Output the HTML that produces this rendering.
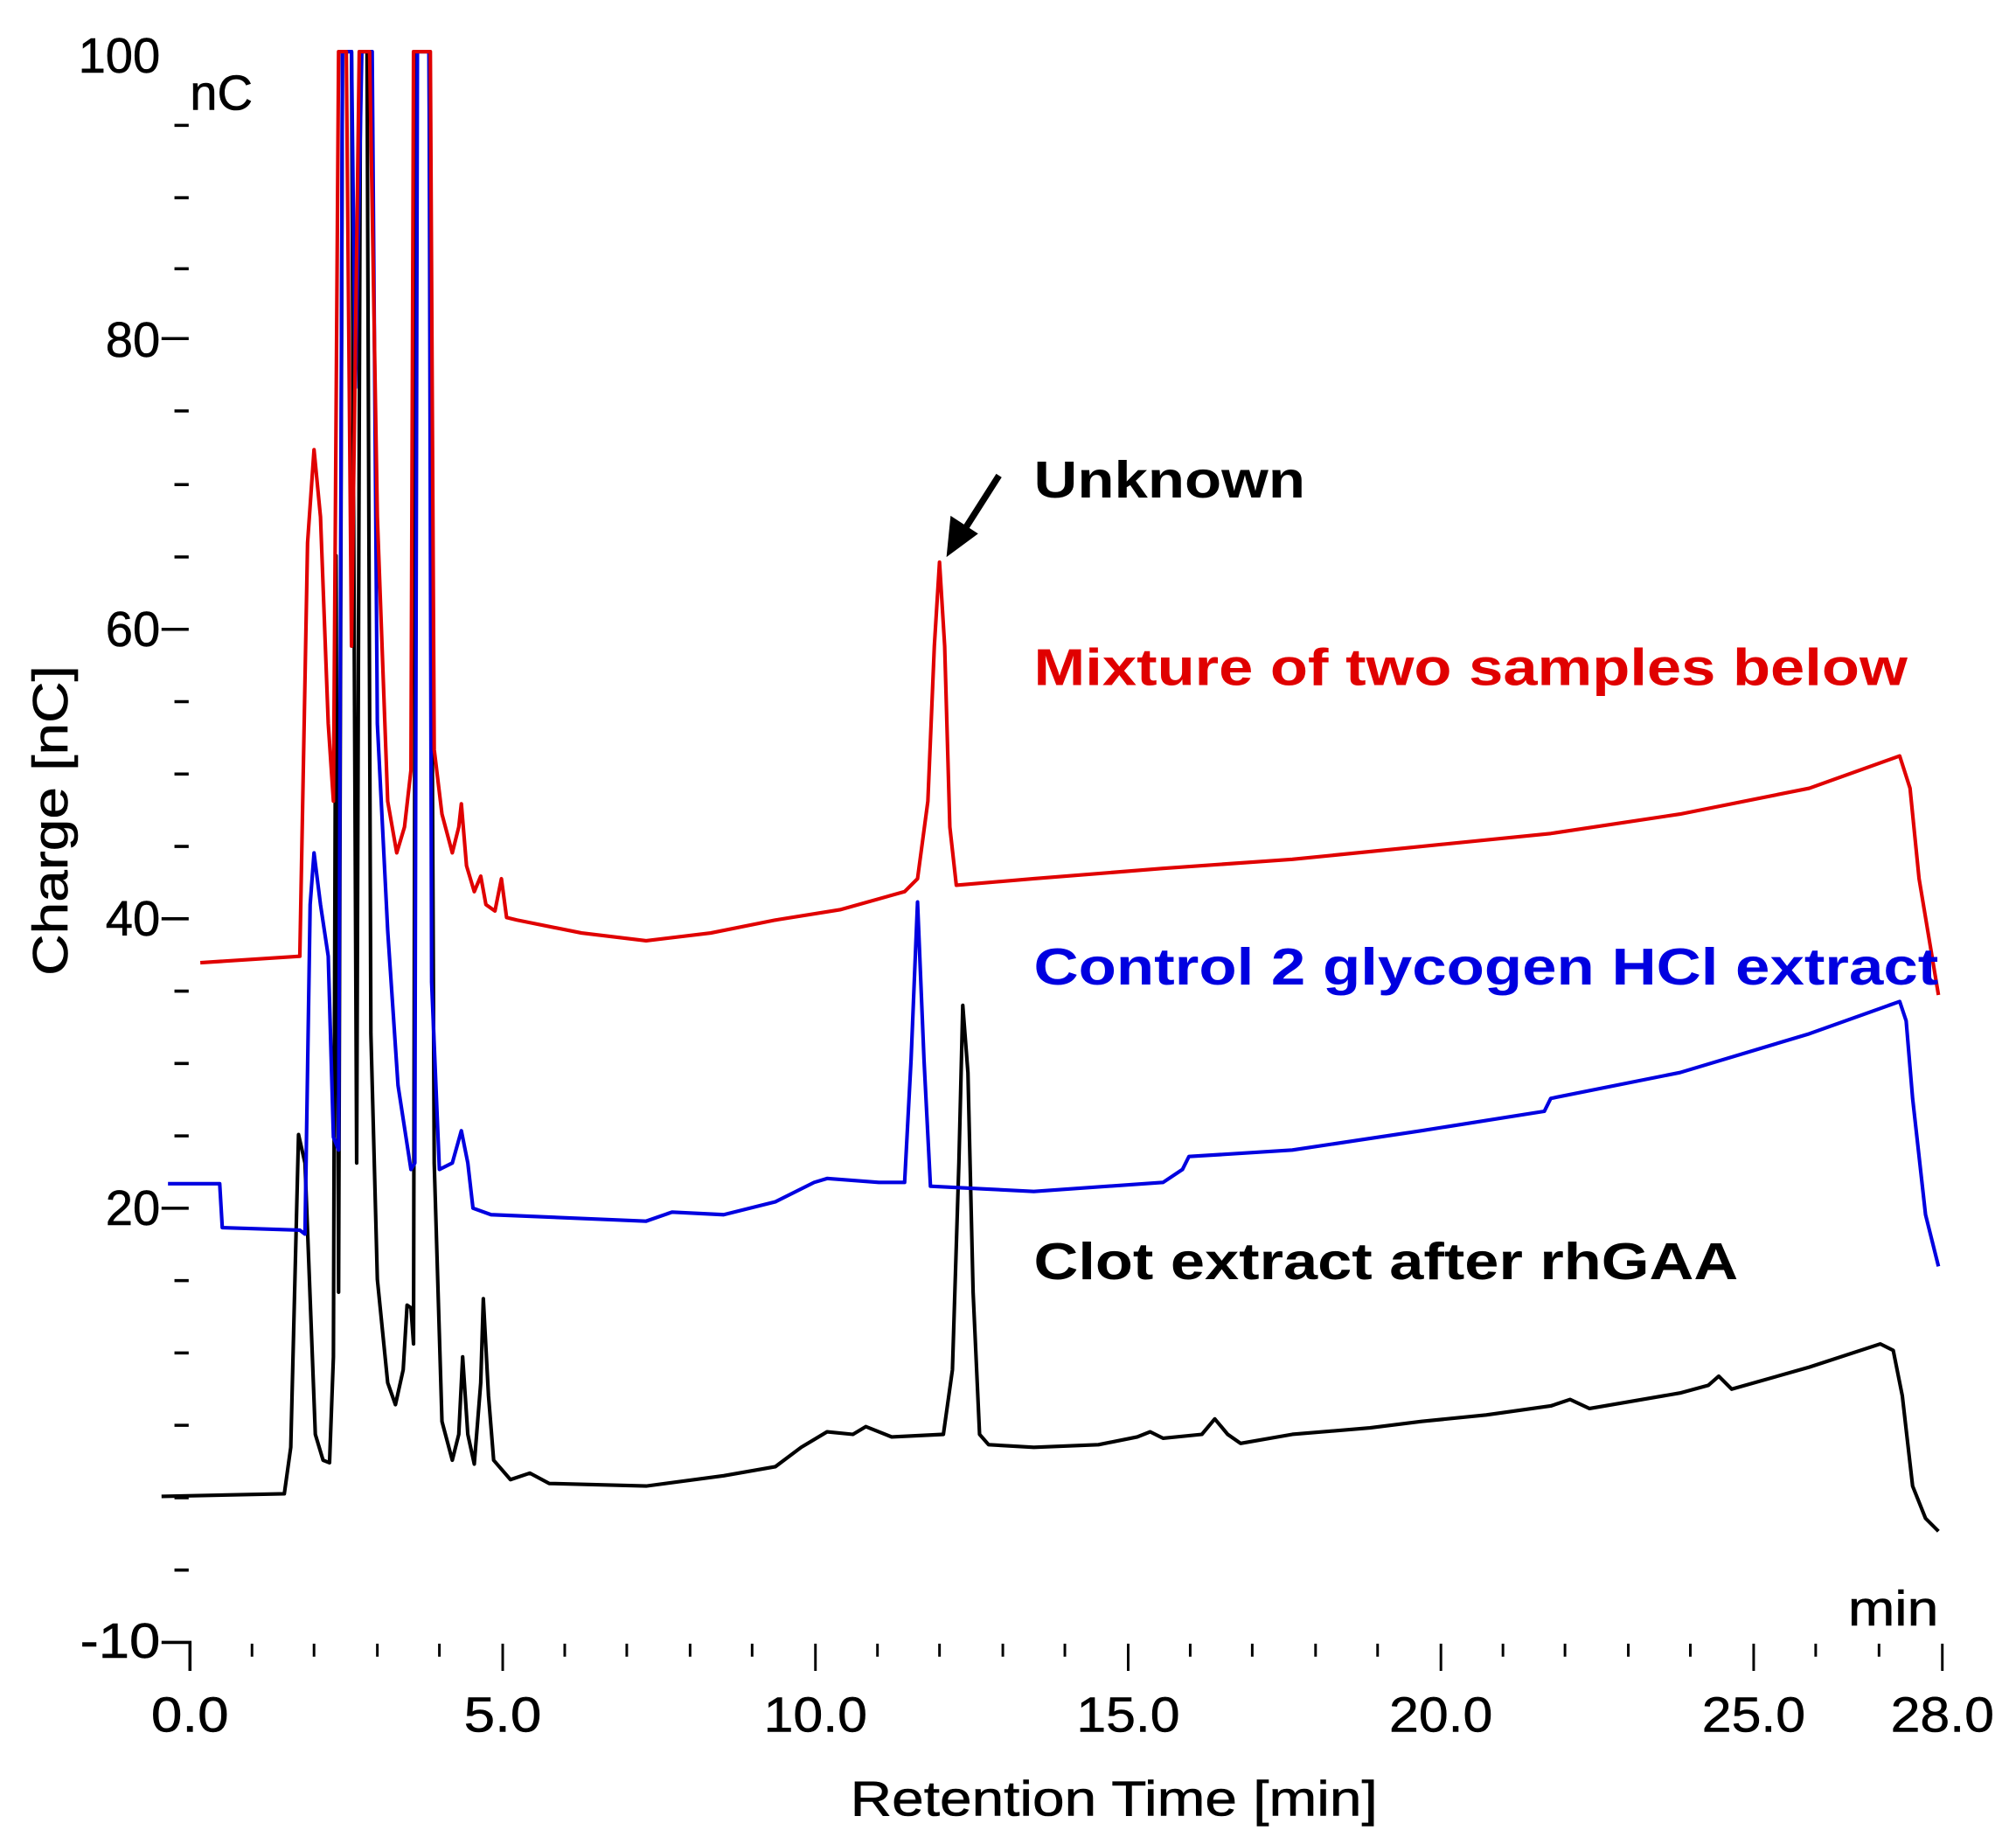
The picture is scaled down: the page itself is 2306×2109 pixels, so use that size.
<!DOCTYPE html>
<html><head><meta charset="utf-8"><style>
html,body{margin:0;padding:0;background:#fff;}
svg{display:block;}
text{font-family:"Liberation Sans",Arial,sans-serif;}
</style></head><body>
<svg width="2306" height="2109" viewBox="0 0 1560 1427" preserveAspectRatio="none" xmlns="http://www.w3.org/2000/svg">
<rect width="1560" height="1427" fill="#fff"/>
<g stroke="#000" stroke-width="2.4" fill="none">
<path d="M125 262H146M125 487H146M125 711H146M125 935H146"/>
<path d="M135 97H146M135 153H146M135 208H146M135 318H146M135 375H146M135 431H146M135 543H146M135 599H146M135 655H146M135 767H146M135 823H146M135 879H146M135 991H146M135 1047H146M135 1103H146M135 1159H146M135 1215H146"/>
<path d="M125 1271H147V1293"/>
</g>
<g stroke="#000" stroke-width="2">
<path d="M195 1272v10M243 1272v10M292 1272v10M340 1272v10M437 1272v10M485 1272v10M534 1272v10M582 1272v10M679 1272v10M727 1272v10M776 1272v10M824 1272v10M921 1272v10M969 1272v10M1018 1272v10M1066 1272v10M1163 1272v10M1211 1272v10M1260 1272v10M1308 1272v10M1405 1272v10M1454 1272v10"/>
<path d="M389 1272v21M631 1272v21M873 1272v21M1115 1272v21M1357 1272v21M1503 1272v21"/>
</g>
<g font-size="38" fill="#000" stroke="#000" stroke-width="0.4">
<text x="124" y="56" text-anchor="end">100</text>
<text x="124" y="276" text-anchor="end">80</text>
<text x="124" y="500" text-anchor="end">60</text>
<text x="124" y="724" text-anchor="end">40</text>
<text x="124" y="948" text-anchor="end">20</text>
<text x="124" y="1283" text-anchor="end" textLength="62" lengthAdjust="spacingAndGlyphs">-10</text>
<text x="147" y="85">nC</text>
<text x="1430" y="1258" textLength="70" lengthAdjust="spacingAndGlyphs">min</text>
<g text-anchor="middle">
<text x="147" y="1340" textLength="60" lengthAdjust="spacingAndGlyphs">0.0</text>
<text x="389" y="1340" textLength="60" lengthAdjust="spacingAndGlyphs">5.0</text>
<text x="631" y="1340" textLength="80" lengthAdjust="spacingAndGlyphs">10.0</text>
<text x="873" y="1340" textLength="80" lengthAdjust="spacingAndGlyphs">15.0</text>
<text x="1115" y="1340" textLength="80" lengthAdjust="spacingAndGlyphs">20.0</text>
<text x="1357" y="1340" textLength="80" lengthAdjust="spacingAndGlyphs">25.0</text>
<text x="1503" y="1340" textLength="80" lengthAdjust="spacingAndGlyphs">28.0</text>
</g>
<text x="862" y="1405" text-anchor="middle" textLength="408" lengthAdjust="spacingAndGlyphs">Retention Time [min]</text>
<text transform="translate(52,635) rotate(-90)" text-anchor="middle" textLength="240" lengthAdjust="spacingAndGlyphs">Charge [nC]</text>
</g>
<g fill="none" stroke-width="2.8" stroke-linejoin="round">
<path stroke="#000" d="M125 1158L220 1156L225 1120L231 878L236 900L244 1110L250 1130L255 1132L258 1050L260 430L262 1000L265 40L272 40L276 900L279 40L284 40L287 800L292 990L300 1070L306 1087L312 1060L315 1010L318 1012L320 1040L322 40L332 40L336 900L342 1100L350 1130L355 1110L358 1050L362 1110L367 1133L372 1070L374 1005L378 1080L382 1130L395 1145L410 1140L425 1148L500 1150L560 1142L600 1135L620 1120L640 1108L660 1110L670 1104L690 1112L730 1110L737 1060L742 900L745 778L749 830L753 1000L758 1110L765 1118L800 1120L850 1118L880 1112L890 1108L900 1113L930 1110L940 1098L950 1110L960 1117L1000 1110L1060 1105L1100 1100L1150 1095L1200 1088L1215 1083L1230 1090L1300 1078L1322 1072L1330 1065L1340 1075L1400 1058L1455 1040L1465 1045L1472 1080L1480 1150L1490 1175L1500 1185"/>
<path stroke="#0000e0" d="M130 916L170 916L172 950L232 952L236 955L240 700L243 660L248 700L254 740L258 880L262 890L265 40L272 40L275 300L280 40L288 40L292 560L300 720L308 840L318 905L321 900L323 40L332 40L334 760L340 905L350 900L357 875L362 900L366 935L380 940L500 945L520 938L560 940L600 930L630 915L640 912L680 915L700 915L705 820L710 698L715 820L720 918L760 920L800 922L900 915L915 905L920 895L1000 890L1100 875L1195 860L1200 850L1300 830L1400 800L1470 775L1475 790L1480 850L1490 940L1500 980"/>
<path stroke="#e00000" d="M155 745L232 740L238 420L243 348L248 400L254 560L258 620L262 40L268 40L272 500L278 40L286 40L292 400L300 620L307 660L313 640L318 596L320 40L333 40L336 580L342 630L350 660L355 640L357 622L361 670L367 690L372 678L376 700L383 705L388 680L392 710L400 712L450 722L500 728L550 722L600 712L650 704L700 690L710 680L718 620L723 500L727 435L731 500L735 640L740 685L800 680L900 672L1000 665L1100 655L1200 645L1300 630L1400 610L1470 585L1478 610L1485 680L1500 770"/>
</g>
<g stroke="#000" stroke-width="5" fill="#000">
<path d="M773 368L745 412"/>
<path d="M733 430L736 400L756 413Z" stroke-width="1"/>
</g>
<g font-size="40" font-weight="bold">
<text x="800" y="385" fill="#000" textLength="210" lengthAdjust="spacingAndGlyphs">Unknown</text>
<text x="800" y="530" fill="#e00000" textLength="676" lengthAdjust="spacingAndGlyphs">Mixture of two samples below</text>
<text x="800" y="762" fill="#0000e0" textLength="700" lengthAdjust="spacingAndGlyphs">Control 2 glycogen HCl extract</text>
<text x="800" y="990" fill="#000" textLength="545" lengthAdjust="spacingAndGlyphs">Clot extract after rhGAA</text>
</g>
</svg>
</body></html>
